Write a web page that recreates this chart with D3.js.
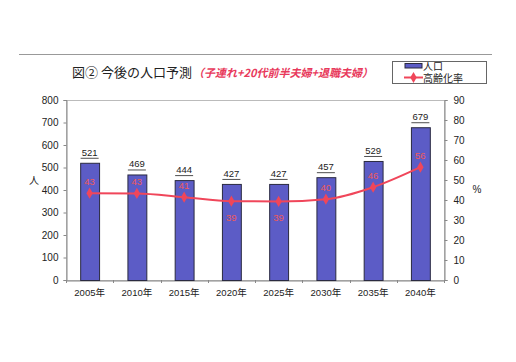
<!DOCTYPE html>
<html>
<head>
<meta charset="utf-8">
<script src="https://d3js.org/d3.v7.min.js"></script>
<style>
  body { margin: 0; background: #fff; }
  text { font-family: "Liberation Sans", Arial, "Noto Sans CJK JP", sans-serif; }
  .jp { font-family: "Noto Sans CJK JP", sans-serif; }
</style>
</head>
<body>
<script>
var years = ["2005年", "2010年", "2015年", "2020年", "2025年", "2030年", "2035年", "2040年"];
var population = [521, 469, 444, 427, 427, 457, 529, 679];
var agingRate = [43.4, 43.3, 41.4, 39.4, 39.3, 40.4, 46.4, 56.4];
var leftTicks = [0, 100, 200, 300, 400, 500, 600, 700, 800];
var rightTicks = [0, 10, 20, 30, 40, 50, 60, 70, 80, 90];
// which rate labels sit under the point
var rateBelow = [false, false, false, true, true, false, false, false];

var W = 516, H = 362;
var svg = d3.select("body").append("svg").attr("width", W).attr("height", H);

var m = { left: 66, right: 444, top: 100, bottom: 280 };

var x = d3.scaleBand().domain(years).range([m.left, m.right]).paddingInner(0.6).paddingOuter(0.3);
var yL = d3.scaleLinear().domain([0, 800]).range([m.bottom, m.top]);
var yR = d3.scaleLinear().domain([0, 90]).range([m.bottom, m.top]);

// outer frame top line
svg.append("line").attr("x1", 19).attr("x2", 492).attr("y1", 54.5).attr("y2", 54.5)
  .attr("stroke", "#999").attr("stroke-width", 1);

// title
var title = svg.append("text").attr("x", 72).attr("y", 77).attr("class", "jp")
  .attr("font-size", 13).attr("fill", "#222");
title.append("tspan").text("図②  今後の人口予測");
title.append("tspan").attr("fill", "#e83a5c").attr("font-size", 11).attr("font-style", "italic")
  .attr("font-weight", "bold").attr("dx", 1).text("（子連れ+20代前半夫婦+退職夫婦）");

// plot border
svg.append("rect").attr("x", m.left + 0.5).attr("y", m.top + 0.5)
  .attr("width", m.right - m.left).attr("height", m.bottom - m.top)
  .attr("fill", "none").attr("stroke", "#bbb");

// left axis
var gL = svg.append("g").attr("transform", "translate(" + (m.left + 0.5) + ",0)")
  .call(d3.axisLeft(yL).tickValues(leftTicks).tickSize(3).tickPadding(5));
gL.select(".domain").attr("stroke", "#888");
gL.selectAll(".tick line").attr("stroke", "#888");
gL.selectAll("text").attr("font-size", 10).attr("fill", "#222");

// right axis
var gR = svg.append("g").attr("transform", "translate(" + (m.right + 0.5) + ",0)")
  .call(d3.axisRight(yR).tickValues(rightTicks).tickSize(3).tickPadding(6));
gR.select(".domain").attr("stroke", "#888");
gR.selectAll(".tick line").attr("stroke", "#888");
gR.selectAll("text").attr("font-size", 10).attr("fill", "#222");

// bottom axis
var gB = svg.append("g").attr("transform", "translate(0," + (m.bottom + 0.5) + ")")
  .call(d3.axisBottom(x).tickSize(0).tickPadding(9));
gB.select(".domain").attr("stroke", "#888");
gB.selectAll("text").attr("font-size", 9.5).attr("fill", "#222");
var step = x.step();
svg.append("g").selectAll("line").data(d3.range(years.length + 1)).enter().append("line")
  .attr("x1", function(i) { return Math.round(m.left + i * step) + 0.5; })
  .attr("x2", function(i) { return Math.round(m.left + i * step) + 0.5; })
  .attr("y1", m.bottom).attr("y2", m.bottom + 3).attr("stroke", "#888");

// axis titles
svg.append("text").attr("x", 34).attr("y", 184).attr("text-anchor", "middle")
  .attr("font-size", 10).attr("fill", "#222").text("人");
svg.append("text").attr("x", 477).attr("y", 193).attr("text-anchor", "middle")
  .attr("font-size", 10).attr("fill", "#222").text("%");

// bars
svg.append("g").selectAll("rect").data(population).enter().append("rect")
  .attr("x", function(d, i) { return x(years[i]) + 0.5; })
  .attr("y", function(d) { return yL(d) + 0.5; })
  .attr("width", x.bandwidth())
  .attr("height", function(d) { return yL(0) - yL(d); })
  .attr("fill", "#5c5cc6").attr("stroke", "#2a2a40").attr("stroke-width", 1);

// bar value labels (underlined)
var bl = svg.append("g").selectAll("g").data(population).enter().append("g");
bl.append("text")
  .attr("x", function(d, i) { return x(years[i]) + x.bandwidth() / 2; })
  .attr("y", function(d) { return yL(d) - 7; })
  .attr("text-anchor", "middle").attr("font-size", 9.5).attr("fill", "#222")
  .text(function(d) { return d; });
bl.append("line")
  .attr("x1", function(d, i) { return x(years[i]) + x.bandwidth() / 2 - 9; })
  .attr("x2", function(d, i) { return x(years[i]) + x.bandwidth() / 2 + 9; })
  .attr("y1", function(d) { return yL(d) - 4.5; })
  .attr("y2", function(d) { return yL(d) - 4.5; })
  .attr("stroke", "#222").attr("stroke-width", 0.8);

// aging rate line
var red = "#f0465a";
var line = d3.line()
  .x(function(d, i) { return x(years[i]) + x.bandwidth() / 2; })
  .y(function(d) { return yR(d); })
  .curve(d3.curveMonotoneX);
svg.append("path").datum(agingRate).attr("d", line)
  .attr("fill", "none").attr("stroke", red).attr("stroke-width", 2);

var diamond = d3.symbol().type(d3.symbolDiamond).size(36);
svg.append("g").selectAll("path").data(agingRate).enter().append("path")
  .attr("d", diamond)
  .attr("transform", function(d, i) {
    return "translate(" + (x(years[i]) + x.bandwidth() / 2) + "," + yR(d) + ")";
  })
  .attr("fill", red);

svg.append("g").selectAll("text").data(agingRate).enter().append("text")
  .attr("x", function(d, i) { return x(years[i]) + x.bandwidth() / 2; })
  .attr("y", function(d, i) { return rateBelow[i] ? yR(d) + 20 : yR(d) - 8; })
  .attr("text-anchor", "middle").attr("font-size", 9.5).attr("fill", "#f05a5a")
  .text(function(d) { return Math.round(d); });

// legend
var lg = svg.append("g");
lg.append("rect").attr("x", 392.5).attr("y", 61.5).attr("width", 94).attr("height", 22)
  .attr("fill", "#fff").attr("stroke", "#666");
lg.append("rect").attr("x", 405).attr("y", 63.5).attr("width", 17).attr("height", 4.5)
  .attr("fill", "#5c5cc6").attr("stroke", "#2a2a40");
lg.append("text").attr("x", 423).attr("y", 70).attr("font-size", 10)
  .attr("fill", "#222").text("人口");
lg.append("line").attr("x1", 404).attr("x2", 423).attr("y1", 77.5).attr("y2", 77.5)
  .attr("stroke", red).attr("stroke-width", 2);
lg.append("path").attr("d", diamond).attr("transform", "translate(413.5,77.5)").attr("fill", red);
lg.append("text").attr("x", 423).attr("y", 81.5).attr("font-size", 10)
  .attr("fill", "#222").text("高齢化率");
</script>
</body>
</html>
